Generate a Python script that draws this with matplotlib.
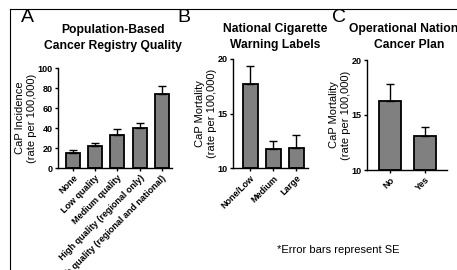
import matplotlib
matplotlib.use("Agg")
import matplotlib.pyplot as plt
from matplotlib.lines import Line2D

plt.rcParams['font.family'] = ['Liberation Sans', 'DejaVu Sans']

W, H = 457, 270

a_cats = ["None", "Low quality", "Medium quality", "High quality (regional only)",
          "High quality (regional and national)"]
a_vals = [15.5, 22.0, 33.5, 40.0, 74.5]
a_err = [2.5, 3.0, 5.5, 5.5, 7.5]

b_cats = ["None/Low", "Medium", "Large"]
b_vals = [17.7, 11.7, 11.8]
b_err = [1.7, 0.8, 1.2]

c_cats = ["No", "Yes"]
c_vals = [16.3, 13.1]
c_err = [1.5, 0.8]

fig = plt.figure(figsize=(W / 100, H / 100), dpi=100)


def px_axes(l, r, t, b):
    return fig.add_axes([l / W, (H - b) / H, (r - l) / W, (b - t) / H])


def draw(ax, cats, vals, err, ylim, yticks, xlim, width, ylabel):
    x = list(range(len(cats)))
    ax.bar(x, [v - ylim[0] for v in vals], bottom=ylim[0], width=width,
           color="#808080", edgecolor="black", linewidth=1.3, zorder=2)
    ax.errorbar(x, vals, yerr=[[0] * len(err), err], fmt="none", ecolor="black",
                elinewidth=1.0, capsize=3, capthick=1.0, zorder=3)
    ax.set_xlim(*xlim)
    ax.set_ylim(*ylim)
    ax.set_yticks(yticks)
    ax.set_yticklabels([str(t) for t in yticks], fontsize=6.5, fontweight="bold")
    ax.set_xticks(x)
    ax.set_xticklabels(cats, rotation=45, ha="right", rotation_mode="anchor",
                       fontsize=6.5, fontweight="bold")
    for s in ["top", "right"]:
        ax.spines[s].set_visible(False)
    for s in ["left", "bottom"]:
        ax.spines[s].set_linewidth(1.0)
    ax.tick_params(axis="both", direction="out", length=2.5, width=1.0, pad=1.5)
    ax.set_ylabel(ylabel, fontsize=8, labelpad=0.5, linespacing=1.2)
    ax.set_facecolor("none")


axA = px_axes(58, 172, 68, 168)
draw(axA, a_cats, a_vals, a_err, (0, 100), [0, 20, 40, 60, 80, 100],
     (-0.67, 4.45), 0.63, "CaP Incidence\n(rate per 100,000)")

axB = px_axes(233, 308, 59, 168)
draw(axB, b_cats, b_vals, b_err, (10, 20), [10, 15, 20],
     (-0.74, 2.52), 0.65, "CaP Mortality\n(rate per 100,000)")

axC = px_axes(367, 447, 60, 170)
draw(axC, c_cats, c_vals, c_err, (10, 20), [10, 15, 20],
     (-0.66, 1.63), 0.63, "CaP Mortality\n(rate per 100,000)")


def ftext(x, y, s, **kw):
    fig.text(x / W, 1 - y / H, s, **kw)


ftext(21, 18, "A", fontsize=14, va="center", ha="left")
ftext(177, 18, "B", fontsize=14, va="center", ha="left")
ftext(332, 18, "C", fontsize=14, va="center", ha="left")

ftext(113, 38, "Population-Based\nCancer Registry Quality", fontsize=8.7,
      fontweight="bold", ha="center", va="center", linespacing=1.4)
ftext(275, 37, "National Cigarette\nWarning Labels", fontsize=8.7,
      fontweight="bold", ha="center", va="center", linespacing=1.4)
ftext(409, 37, "Operational National\nCancer Plan", fontsize=8.7,
      fontweight="bold", ha="center", va="center", linespacing=1.4)

ftext(277, 250, "*Error bars represent SE", fontsize=8, ha="left", va="center")

fig.add_artist(Line2D([10 / W, 10 / W], [0, 1 - 9 / H], color="black", lw=0.8,
                      transform=fig.transFigure))
fig.add_artist(Line2D([10 / W, 1], [1 - 9 / H, 1 - 9 / H], color="black", lw=0.8,
                      transform=fig.transFigure))

fig.savefig("out.png", dpi=100)
